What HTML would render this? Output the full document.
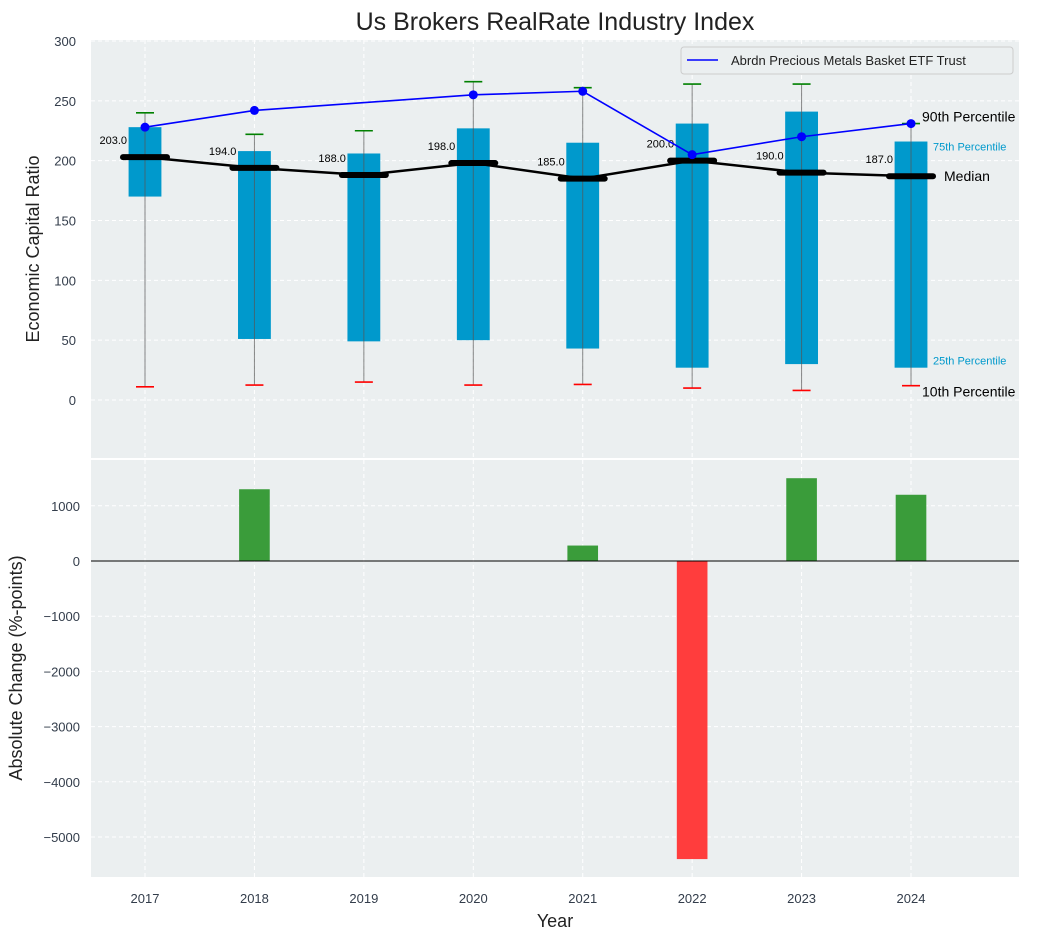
<!DOCTYPE html>
<html><head><meta charset="utf-8"><style>
body{margin:0;background:#fff;font-family:"Liberation Sans","DejaVu Sans",sans-serif;}
svg text{font-family:"Liberation Sans","DejaVu Sans",sans-serif;}
</style></head><body>
<svg id="c" width="1043" height="940" xmlns="http://www.w3.org/2000/svg"></svg>
<script>
const years=[2017,2018,2019,2020,2021,2022,2023,2024];
const p10=[11,12.5,15,12.5,13,10,8,12];
const p25=[170,51,49,50,43,27,30,27];
const median=[203,194,188,198,185,200,190,187];
const p75=[228,208,206,227,215,231,241,216];
const p90=[240,222,225,266,261,264,264,231];
const etf=[228,242,null,255,258,205,220,231];
const change=[0,1300,0,0,280,-5400,1500,1200];
const topTicks=[0,50,100,150,200,250,300];
const botTicks=[-5000,-4000,-3000,-2000,-1000,0,1000];

const svg=document.getElementById('c');
const NS='http://www.w3.org/2000/svg';
function el(t,a,p){const e=document.createElementNS(NS,t);for(const k in a)e.setAttribute(k,a[k]);(p||svg).appendChild(e);return e;}
const L=91,R=1019;
const U=109.43;
const x=v=>145+(v-2017)*U;
const T0=40,T1=458, yT=v=>400-v*(400-41)/300;
const B0=460,B1=877, yB=v=>561-v*0.0552;

let r=el('rect',{x:L,y:T0,width:R-L,height:T1-T0,fill:'#ebeff0'});

r=el('rect',{x:L,y:B0,width:R-L,height:B1-B0,fill:'#ebeff0'});


years.forEach(yr=>{
  el('line',{x1:x(yr),x2:x(yr),y1:T0,y2:T1,stroke:'#fff','stroke-dasharray':'4,3'});
  el('line',{x1:x(yr),x2:x(yr),y1:B0,y2:B1,stroke:'#fff','stroke-dasharray':'4,3'});
  const t=el('text',{x:x(yr),y:903,'text-anchor':'middle','font-size':13,fill:'#333d4b'});t.textContent=yr;
  
});
topTicks.forEach(v=>{
  el('line',{x1:L,x2:R,y1:yT(v),y2:yT(v),stroke:'#fff','stroke-dasharray':'4,3'});
  const t=el('text',{x:76,y:yT(v)+5,'text-anchor':'end','font-size':13,fill:'#333d4b'});t.textContent=v;
  
});
botTicks.forEach(v=>{
  el('line',{x1:L,x2:R,y1:yB(v),y2:yB(v),stroke:'#fff','stroke-dasharray':'4,3'});
  const t=el('text',{x:80,y:yB(v)+5,'text-anchor':'end','font-size':13,fill:'#333d4b'});t.textContent=(v<0?'\u2212'+(-v):v);
  
});

const bw=U*0.3;
years.forEach((yr,i)=>{
  const b=el('rect',{x:x(yr)-bw/2,y:yT(p75[i]),width:bw,height:yT(p25[i])-yT(p75[i]),fill:'#0099cc'});
  
  const w=el('line',{x1:x(yr),x2:x(yr),y1:yT(p10[i]),y2:yT(p90[i]),stroke:'#555','stroke-width':1,opacity:0.7});
  
  const c1=el('line',{x1:x(yr)-9,x2:x(yr)+9,y1:yT(p90[i]),y2:yT(p90[i]),stroke:'green','stroke-width':1.6});
  
  const c2=el('line',{x1:x(yr)-9,x2:x(yr)+9,y1:yT(p10[i]),y2:yT(p10[i]),stroke:'red','stroke-width':1.6});
  
});
const ml=el('polyline',{points:years.map((yr,i)=>x(yr)+','+yT(median[i])).join(' '),fill:'none',stroke:'#000','stroke-width':2.5});

years.forEach((yr,i)=>{
  const s=el('line',{x1:x(yr)-22,x2:x(yr)+22,y1:yT(median[i]),y2:yT(median[i]),stroke:'#000','stroke-width':6,'stroke-linecap':'round'});
  
  const t=el('text',{x:x(yr)-18,y:yT(median[i])-13,'text-anchor':'end','font-size':11,fill:'#000'});t.textContent=median[i].toFixed(1);
  
});
const pts=[];years.forEach((yr,i)=>{if(etf[i]!==null)pts.push(x(yr)+','+yT(etf[i]));});
const el2=el('polyline',{points:pts.join(' '),fill:'none',stroke:'#0000ff','stroke-width':1.6});

years.forEach((yr,i)=>{if(etf[i]===null)return;
  const d=el('circle',{cx:x(yr),cy:yT(etf[i]),r:4.5,fill:'#0000ff'});
  });

const last=years.length-1,xl=x(years[last]);
function ann(txt,xx,yy,fs,col,name){const t=el('text',{x:xx,y:yy,'font-size':fs,fill:col});t.textContent=txt;}
ann('90th Percentile',xl+11,yT(p90[last])-2,14,'#000','p90-annotation');
ann('75th Percentile',xl+22,yT(p75[last])+9,11,'#0099cc','p75-annotation');
ann('Median',xl+33,yT(median[last])+5,14,'#000','median-annotation');
ann('25th Percentile',xl+22,yT(p25[last])-3,11,'#0099cc','p25-annotation');
ann('10th Percentile',xl+11,yT(p10[last])+11,14,'#000','p10-annotation');

const lg=el('g',{});
el('rect',{x:681,y:47,width:332,height:27,rx:3,fill:'#ebeff0',stroke:'#ccc'},lg);
el('line',{x1:687,x2:718,y1:60,y2:60,stroke:'#0000ff','stroke-width':1.6},lg);
const lt=el('text',{x:731,y:65,'font-size':13,fill:'#222'},lg);lt.textContent='Abrdn Precious Metals Basket ETF Trust';

const bbw=U*0.28;
years.forEach((yr,i)=>{const v=change[i];if(v===0)return;
  const b=el('rect',{x:x(yr)-bbw/2,y:Math.min(yB(0),yB(v)),width:bbw,height:Math.abs(yB(v)-yB(0)),fill:v>0?'#3a9c3a':'#ff3d3d'});
  });
el('line',{x1:L,x2:R,y1:yB(0),y2:yB(0),stroke:'#000','stroke-width':1});

let t=el('text',{x:555,y:30,'text-anchor':'middle','font-size':25,fill:'#222'});t.textContent='Us Brokers RealRate Industry Index';

t=el('text',{x:555,y:927,'text-anchor':'middle','font-size':18,fill:'#222'});t.textContent='Year';

t=el('text',{x:39,y:249,'text-anchor':'middle','font-size':18,fill:'#222',transform:'rotate(-90 39 249)'});t.textContent='Economic Capital Ratio';

t=el('text',{x:22,y:668,'text-anchor':'middle','font-size':18,fill:'#222',transform:'rotate(-90 22 668)'});t.textContent='Absolute Change (%-points)';

</script>
</body></html>
